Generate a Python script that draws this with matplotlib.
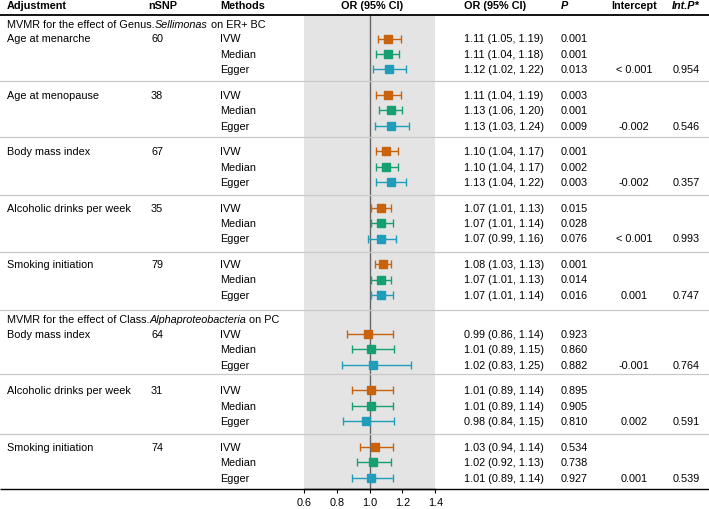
import matplotlib
matplotlib.use("Agg")
import matplotlib.pyplot as plt

plt.rcParams['font.family'] = ['Liberation Sans', 'DejaVu Sans']

# ---------------- data ----------------
section_titles = [("MVMR for the effect of Genus.", "Sellimonas", " on ER+ BC"),
                  ("MVMR for the effect of Class.", "Alphaproteobacteria", " on PC")]
adjustments = ["Age at menarche", "Age at menopause", "Body mass index",
               "Alcoholic drinks per week", "Smoking initiation",
               "Body mass index", "Alcoholic drinks per week", "Smoking initiation"]
section_of = [0, 0, 0, 0, 0, 1, 1, 1]
nsnp = [60, 38, 67, 35, 79, 64, 31, 74]
methods = ["IVW", "Median", "Egger"]

or_ivw = [1.11, 1.11, 1.10, 1.07, 1.08, 0.99, 1.01, 1.03]
lo_ivw = [1.05, 1.04, 1.04, 1.01, 1.03, 0.86, 0.89, 0.94]
hi_ivw = [1.19, 1.19, 1.17, 1.13, 1.13, 1.14, 1.14, 1.14]
p_ivw = ["0.001", "0.003", "0.001", "0.015", "0.001", "0.923", "0.895", "0.534"]

or_med = [1.11, 1.13, 1.10, 1.07, 1.07, 1.01, 1.01, 1.02]
lo_med = [1.04, 1.06, 1.04, 1.01, 1.01, 0.89, 0.89, 0.92]
hi_med = [1.18, 1.20, 1.17, 1.14, 1.13, 1.15, 1.14, 1.13]
p_med = ["0.001", "0.001", "0.002", "0.028", "0.014", "0.860", "0.905", "0.738"]

or_egg = [1.12, 1.13, 1.13, 1.07, 1.07, 1.02, 0.98, 1.01]
lo_egg = [1.02, 1.03, 1.04, 0.99, 1.01, 0.83, 0.84, 0.89]
hi_egg = [1.22, 1.24, 1.22, 1.16, 1.14, 1.25, 1.15, 1.14]
p_egg = ["0.013", "0.009", "0.003", "0.076", "0.016", "0.882", "0.810", "0.927"]

intercept = ["< 0.001", "-0.002", "-0.002", "< 0.001", "0.001", "-0.001", "0.002", "0.001"]
int_p = ["0.954", "0.546", "0.357", "0.993", "0.747", "0.764", "0.591", "0.539"]

xticks = [0.6, 0.8, 1.0, 1.2, 1.4]
headers = ["Adjustment", "nSNP", "Methods", "OR (95% CI)", "OR (95% CI)", "P", "Intercept", "Int.P*"]

method_colors = ["#C9620C", "#16A072", "#1F9DBA"]

# ---------------- layout (pixel coordinates) ----------------
W, H = 709, 510
FS = 7.8
y_top_line = 16
y_axis = 490
y0, step, extra = 39.5, 56.4, 13.5
line_dy = 15.4
ivw_y = [y0 + i * step + (extra if section_of[i] == 1 else 0) for i in range(len(adjustments))]
sec_y = [25, ivw_y[5] - 15]
sep_y = [81.5, 138, 196, 252.5, 310.5, 375, 434.5]

fig = plt.figure(figsize=(W / 100, H / 100), dpi=100)

# forest axes
ax = fig.add_axes([304 / W, 1 - y_axis / H, 131.3 / W, (y_axis - y_top_line) / H])
ax.set_xlim(xticks[0], xticks[-1])
ax.set_ylim(y_axis, y_top_line)
ax.set_facecolor("#E4E4E4")
for s in ["top", "left", "right"]:
    ax.spines[s].set_visible(False)
ax.spines["bottom"].set_linewidth(1.0)
ax.set_yticks([])
ax.set_xticks(xticks)
ax.set_xticklabels([f"{t:.1f}" for t in xticks], fontsize=FS)
ax.tick_params(axis="x", length=3, width=0.8, pad=3)
ax.axvline(1.0, color="#666666", lw=1.0, zorder=1)

series = [(or_ivw, lo_ivw, hi_ivw), (or_med, lo_med, hi_med), (or_egg, lo_egg, hi_egg)]
for m, (est, lo, hi) in enumerate(series):
    ys = [y + m * line_dy for y in ivw_y]
    xerr = [[e - l for e, l in zip(est, lo)], [h - e for e, h in zip(est, hi)]]
    ax.errorbar(est, ys, xerr=xerr, fmt="s", color=method_colors[m], ms=5.8,
                elinewidth=1.0, capsize=2.6, capthick=1.0, zorder=3)

# table axes (on top, transparent)
tab = fig.add_axes([0, 0, 1, 1])
tab.set_xlim(0, W)
tab.set_ylim(H, 0)
tab.axis("off")
tab.set_zorder(3)
tab.patch.set_visible(False)

# headers
hx = [7, 148, 220, 372, 464, 561, 634, 686]
ha = ["left", "left", "left", "center", "left", "left", "center", "center"]
for i, (t, x, a) in enumerate(zip(headers, hx, ha)):
    style = "italic" if t in ("P", "Int.P*") else "normal"
    tab.text(x, 6, t, ha=a, va="center", fontsize=FS, fontweight="bold", style=style)
tab.plot([0, W], [y_top_line, y_top_line], color="black", lw=1.3, solid_capstyle="butt")

# section titles (pieces, middle one italic)
renderer = fig.canvas.get_renderer()
for parts, y in zip(section_titles, sec_y):
    x = 7
    for k, part in enumerate(parts):
        t = tab.text(x, y, part, ha="left", va="center", fontsize=FS,
                     style="italic" if k == 1 else "normal")
        bb = t.get_window_extent(renderer=renderer)
        x += bb.width

# separators
for y in sep_y:
    tab.plot([0, W], [y, y], color="#C8C8C8", lw=0.9)
tab.plot([0, W], [y_axis, y_axis], color="black", lw=1.0, solid_capstyle="butt")

ps = [p_ivw, p_med, p_egg]
for i, y in enumerate(ivw_y):
    tab.text(7, y, adjustments[i], ha="left", va="center", fontsize=FS)
    tab.text(151, y, str(nsnp[i]), ha="left", va="center", fontsize=FS)
    for m in range(3):
        yy = y + m * line_dy
        est, lo, hi = series[m]
        tab.text(220, yy, methods[m], ha="left", va="center", fontsize=FS)
        tab.text(464, yy, f"{est[i]:.2f} ({lo[i]:.2f}, {hi[i]:.2f})", ha="left", va="center", fontsize=FS)
        tab.text(561, yy, ps[m][i], ha="left", va="center", fontsize=FS)
    tab.text(634, y + 2 * line_dy, intercept[i], ha="center", va="center", fontsize=FS)
    tab.text(686, y + 2 * line_dy, int_p[i], ha="center", va="center", fontsize=FS)

fig.savefig("out.png", dpi=100)
